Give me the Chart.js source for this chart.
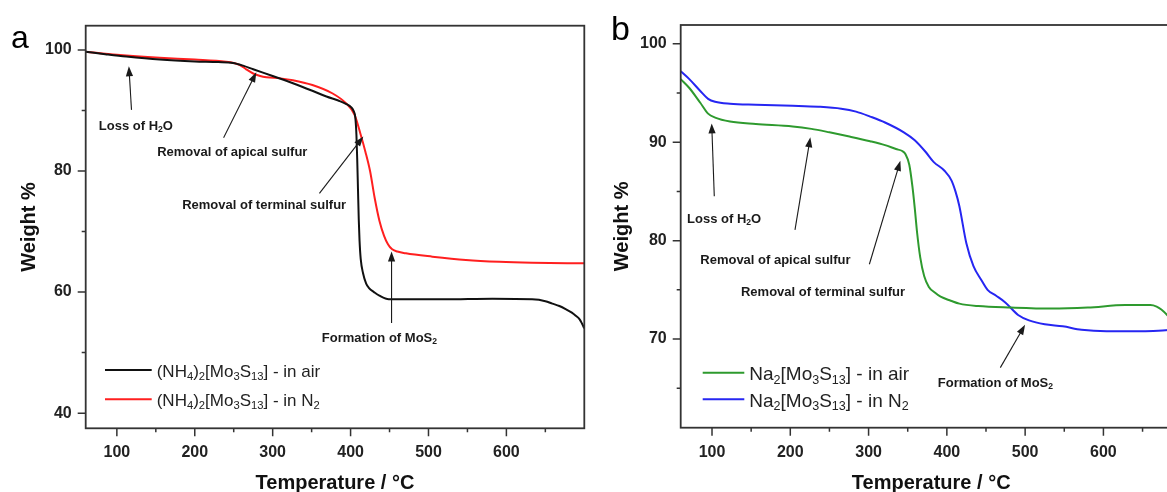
<!DOCTYPE html>
<html>
<head>
<meta charset="utf-8">
<script src="https://cdn.jsdelivr.net/npm/chart.js@4.4.1/dist/chart.umd.min.js"></script>
<style>
  html, body { margin: 0; padding: 0; background: #fff; overflow: hidden; width: 1167px; height: 492px; }
  canvas { position: absolute; top: 0; }
  #chartA { left: 0; }
  #chartB { left: 590px; }
</style>
</head>
<body>
<canvas id="chartA" width="590" height="500"></canvas>
<canvas id="chartB" width="600" height="500"></canvas>
<script>
/* ==========================================================================
   Data - TGA curves
   ========================================================================== */

// Panel a: (NH4)2[Mo3S13]
const tempAirA = [60, 85, 112, 155, 200, 230, 249, 262, 275, 300, 326, 350, 369, 385, 394, 401, 404, 406,
    407.5, 408.5, 409.5, 410.5, 411.5, 413, 416, 420, 424, 430, 437, 449, 480, 520, 582, 633, 650, 659,
    668, 676, 684, 689, 694, 697, 700];
const weightAirA = [99.7, 99.3, 98.9, 98.4, 98.1, 98.0, 97.85, 97.4, 96.8, 95.7, 94.5, 93.3, 92.3, 91.6, 91.1, 90.5, 89.9, 88.9,
    86.0, 82.0, 77.0, 72.0, 68.5, 65.5, 63.1, 61.4, 60.6, 60.0, 59.4, 58.8, 58.8, 58.8, 58.9, 58.8, 58.5, 58.1,
    57.7, 57.2, 56.6, 56.1, 55.5, 54.8, 54.0];

const tempN2A = [60, 100, 155, 200, 240, 250, 258, 266, 275, 284, 292, 310, 326, 351, 377, 394, 405, 413,
    419, 425, 431, 437, 443, 448, 453, 460, 471, 505, 548, 591, 633, 700];
const weightN2A = [99.7, 99.2, 98.7, 98.4, 98.05, 97.85, 97.5, 96.8, 96.1, 95.7, 95.5, 95.3, 95.0, 94.2, 92.8, 91.2, 89.3, 86.0,
    83.2, 80.0, 75.5, 71.8, 69.3, 67.9, 67.1, 66.7, 66.4, 65.85, 65.3, 65.0, 64.85, 64.75];

// Panel b: Na2[Mo3S13]
const tempAirB = [60, 71, 85, 95, 104, 123, 156, 203, 227, 250, 274, 302, 321, 335, 343, 347, 352, 356,
    359, 362, 366, 371, 377, 385, 392, 405, 416, 440, 482, 533, 580, 628, 660, 668, 674, 682, 690];
const weightAirB = [96.4, 95.5, 94.0, 92.9, 92.5, 92.1, 91.85, 91.6, 91.35, 91.0, 90.6, 90.1, 89.7, 89.3, 89.1, 88.8, 87.7, 85.5,
    83.3, 80.8, 78.3, 76.4, 75.3, 74.7, 74.3, 73.9, 73.6, 73.35, 73.2, 73.1, 73.2, 73.45, 73.45, 73.3, 73.0, 72.4, 71.7];

const tempN2B = [60, 71, 85, 95, 104, 123, 156, 203, 236, 265, 284, 302, 321, 345, 359, 373, 383, 397,
    406, 411, 416, 425, 434, 444, 452, 463, 475, 491, 505, 525, 548, 572, 604, 650, 670, 690];
const weightN2B = [97.2, 96.4, 95.2, 94.4, 94.1, 93.9, 93.8, 93.7, 93.6, 93.4, 93.1, 92.6, 92.0, 91.0, 90.2, 89.0, 88.0, 87.1,
    86.1, 85.0, 83.5, 79.7, 77.4, 76.0, 75.0, 74.4, 73.7, 72.45, 71.9, 71.5, 71.3, 70.95, 70.8, 70.8, 70.85, 70.95];

// Ticks
const xTicks = [100, 150, 200, 250, 300, 350, 400, 450, 500, 550, 600, 650];
const xTickLabels = [100, 200, 300, 400, 500, 600];
const yTicksA = [40, 50, 60, 70, 80, 90, 100];
const yTickLabelsA = [40, 60, 80, 100];
const yTicksB = [65, 70, 75, 80, 85, 90, 95, 100];
const yTickLabelsB = [70, 80, 90, 100];

// Annotations: text anchor, arrow tail, arrow tip (temperature, weight %)
const notesA = [
    { text: 'Loss of H_{2}O', at: [76.9, 87.6], from: [118.8, 90.1], to: [115.4, 97.3] },
    { text: 'Removal of apical sulfur', at: [151.7, 83.2], from: [237, 85.5], to: [279, 96.3] },
    { text: 'Removal of terminal sulfur', at: [183.8, 74.4], from: [360, 76.3], to: [416.4, 85.7] },
    { text: 'Formation of MoS_{2}', at: [363, 52.55], from: [452.6, 54.9], to: [452.6, 66.7] }
];
const notesB = [
    { text: 'Loss of H_{2}O', at: [68.1, 82.3], from: [102.9, 84.5], to: [99.6, 91.9] },
    { text: 'Removal of apical sulfur', at: [85.0, 78.05], from: [206, 81.1], to: [225.6, 90.5] },
    { text: 'Removal of terminal sulfur', at: [137.0, 74.8], from: [301, 77.6], to: [340.6, 88.1] },
    { text: 'Formation of MoS_{2}', at: [388.4, 65.6], from: [468.3, 67.1], to: [499.9, 71.45] }
];

const FONT = '"Liberation Sans", Arial, Helvetica, sans-serif';
const toPoints = (xs, ys) => xs.map((x, i) => ({ x: x, y: ys[i] }));

/* ==========================================================================
   Helpers
   ========================================================================== */

// draws text with _{..} subscripts, y = visual middle of main text
function drawRich(ctx, str, x, y, size, weight) {
    const parts = str.split(/(_\{[^}]*\})/).filter(Boolean);
    const base = y + size * 0.35;
    let cx = x;
    ctx.textBaseline = 'alphabetic';
    ctx.textAlign = 'left';
    parts.forEach(p => {
        const sub = p.startsWith('_{');
        const txt = sub ? p.slice(2, -1) : p;
        const fs = sub ? size * 0.66 : size;
        ctx.font = `${weight} ${fs}px ${FONT}`;
        ctx.fillText(txt, cx, sub ? base + size * 0.17 : base);
        cx += ctx.measureText(txt).width;
    });
}

function arrow(ctx, x1, y1, x2, y2) {
    const ang = Math.atan2(y2 - y1, x2 - x1);
    const len = 10, hw = 3.6;
    ctx.beginPath();
    ctx.moveTo(x1, y1);
    ctx.lineTo(x2 - Math.cos(ang) * len * 0.8, y2 - Math.sin(ang) * len * 0.8);
    ctx.stroke();
    ctx.beginPath();
    ctx.moveTo(x2, y2);
    ctx.lineTo(x2 - Math.cos(ang) * len - Math.sin(ang) * hw, y2 - Math.sin(ang) * len + Math.cos(ang) * hw);
    ctx.lineTo(x2 - Math.cos(ang) * len + Math.sin(ang) * hw, y2 - Math.sin(ang) * len - Math.cos(ang) * hw);
    ctx.closePath();
    ctx.fill();
}

/* ==========================================================================
   Frame / ticks / legend / annotations plugin
   ========================================================================== */

const tgaDecor = {
    id: 'tgaDecor',
    afterDraw(chart, args, opts) {
        const { ctx, chartArea: a, scales: { x, y } } = chart;
        ctx.save();

        // frame
        ctx.strokeStyle = '#333';
        ctx.lineWidth = 1.8;
        ctx.strokeRect(a.left, a.top, a.right - a.left, a.bottom - a.top);

        // tick marks (outward)
        ctx.lineWidth = 1.5;
        ctx.beginPath();
        x.ticks.forEach(t => {
            const px = x.getPixelForValue(t.value);
            const len = xTickLabels.includes(t.value) ? 8 : 4;
            ctx.moveTo(px, a.bottom);
            ctx.lineTo(px, a.bottom + len);
        });
        y.ticks.forEach(t => {
            const py = y.getPixelForValue(t.value);
            const len = opts.yLabels.includes(t.value) ? 8 : 4;
            ctx.moveTo(a.left, py);
            ctx.lineTo(a.left - len, py);
        });
        ctx.stroke();

        // panel letter
        ctx.fillStyle = '#000';
        ctx.font = `${opts.letterSize}px ${FONT}`;
        ctx.textAlign = 'left';
        ctx.textBaseline = 'alphabetic';
        ctx.fillText(opts.letter, opts.letterX, opts.letterY);

        // annotations
        ctx.fillStyle = '#1a1a1a';
        ctx.strokeStyle = '#1a1a1a';
        ctx.lineWidth = 1.1;
        opts.notes.forEach(n => {
            drawRich(ctx, n.text, x.getPixelForValue(n.at[0]), y.getPixelForValue(n.at[1]), 13, 'bold');
            arrow(ctx,
                x.getPixelForValue(n.from[0]), y.getPixelForValue(n.from[1]),
                x.getPixelForValue(n.to[0]), y.getPixelForValue(n.to[1]));
        });

        // legend
        const lg = opts.legend;
        chart.data.datasets.forEach((ds, i) => {
            const ly = a.top + lg.y0 + i * lg.dy;
            ctx.strokeStyle = ds.borderColor;
            ctx.lineWidth = 2;
            ctx.beginPath();
            ctx.moveTo(a.left + lg.x1, ly);
            ctx.lineTo(a.left + lg.x2, ly);
            ctx.stroke();
            ctx.fillStyle = '#222';
            drawRich(ctx, ds.label, a.left + lg.tx, ly + 1, lg.size, 'normal');
        });

        ctx.restore();
    }
};

/* ==========================================================================
   Chart factory
   ========================================================================== */

function makeChart(id, cfg) {
    const ctx = document.getElementById(id).getContext('2d');
    return new Chart(ctx, {
        type: 'line',
        data: {
            datasets: cfg.series.map(s => ({
                label: s.label,
                data: s.data,
                borderColor: s.color,
                borderWidth: 2,
                pointRadius: 0,
                fill: false,
                cubicInterpolationMode: 'monotone'
            }))
        },
        options: {
            responsive: false,
            animation: false,
            layout: { padding: cfg.padding },
            plugins: {
                legend: { display: false },
                tooltip: { enabled: false },
                tgaDecor: cfg.decor
            },
            scales: {
                x: {
                    type: 'linear',
                    min: 60,
                    max: 700,
                    afterBuildTicks: s => { s.ticks = xTicks.map(v => ({ value: v })); },
                    afterFit: s => { s.height = cfg.xAxisHeight; },
                    grid: { display: false, drawTicks: false },
                    border: { display: false },
                    ticks: {
                        autoSkip: false,
                        maxRotation: 0,
                        padding: 15,
                        color: '#222',
                        font: { family: FONT, size: 16, weight: 'bold' },
                        callback: v => xTickLabels.includes(v) ? v : ''
                    },
                    title: {
                        display: true,
                        text: 'Temperature / °C',
                        color: '#111',
                        padding: { top: 0, bottom: 4.5 },
                        font: { family: FONT, size: 20, weight: 'bold' }
                    }
                },
                y: {
                    type: 'linear',
                    min: cfg.yMin,
                    max: cfg.yMax,
                    afterBuildTicks: s => { s.ticks = cfg.yTicks.map(v => ({ value: v })); },
                    afterFit: s => { s.width = cfg.yAxisWidth; },
                    grid: { display: false, drawTicks: false },
                    border: { display: false },
                    ticks: {
                        autoSkip: false,
                        padding: 14,
                        color: '#222',
                        font: { family: FONT, size: 16, weight: 'bold' },
                        callback: v => cfg.yLabels.includes(v) ? v : ''
                    },
                    title: {
                        display: true,
                        text: 'Weight %',
                        color: '#111',
                        padding: { top: cfg.yTitlePad, bottom: 0 },
                        font: { family: FONT, size: 20, weight: 'bold' }
                    }
                }
            }
        },
        plugins: [tgaDecor]
    });
}

makeChart('chartA', {
    series: [
        { label: '(NH_{4})_{2}[Mo_{3}S_{13}] - in air', data: toPoints(tempAirA, weightAirA), color: '#111111' },
        { label: '(NH_{4})_{2}[Mo_{3}S_{13}] - in N_{2}', data: toPoints(tempN2A, weightN2A), color: '#ff1f1f' }
    ],
    padding: { top: 25.7, right: 5.7, left: 0, bottom: 0 },
    xAxisHeight: 71.7,
    yAxisWidth: 85.7,
    yMin: 37.5,
    yMax: 104,
    yTicks: yTicksA,
    yLabels: yTickLabelsA,
    yTitlePad: 17,
    decor: {
        yLabels: yTickLabelsA,
        notes: notesA,
        letter: 'a', letterX: 11, letterY: 48, letterSize: 32,
        legend: { x1: 19.3, x2: 66, tx: 71, y0: 344.3, dy: 29.3, size: 17 }
    }
});

makeChart('chartB', {
    series: [
        { label: 'Na_{2}[Mo_{3}S_{13}] - in air', data: toPoints(tempAirB, weightAirB), color: '#2e9a2e' },
        { label: 'Na_{2}[Mo_{3}S_{13}] - in N_{2}', data: toPoints(tempN2B, weightN2B), color: '#2626f2' }
    ],
    padding: { top: 25, right: 8.3, left: 0, bottom: 0 },
    xAxisHeight: 72.3,
    yAxisWidth: 90.7,
    yMin: 61.0,
    yMax: 101.9,
    yTicks: yTicksB,
    yLabels: yTickLabelsB,
    yTitlePad: 20,
    decor: {
        yLabels: yTickLabelsB,
        notes: notesB,
        letter: 'b', letterX: 21, letterY: 40, letterSize: 34,
        legend: { x1: 22, x2: 63.6, tx: 68.6, y0: 347.7, dy: 26.6, size: 19 }
    }
});
</script>
</body>
</html>
